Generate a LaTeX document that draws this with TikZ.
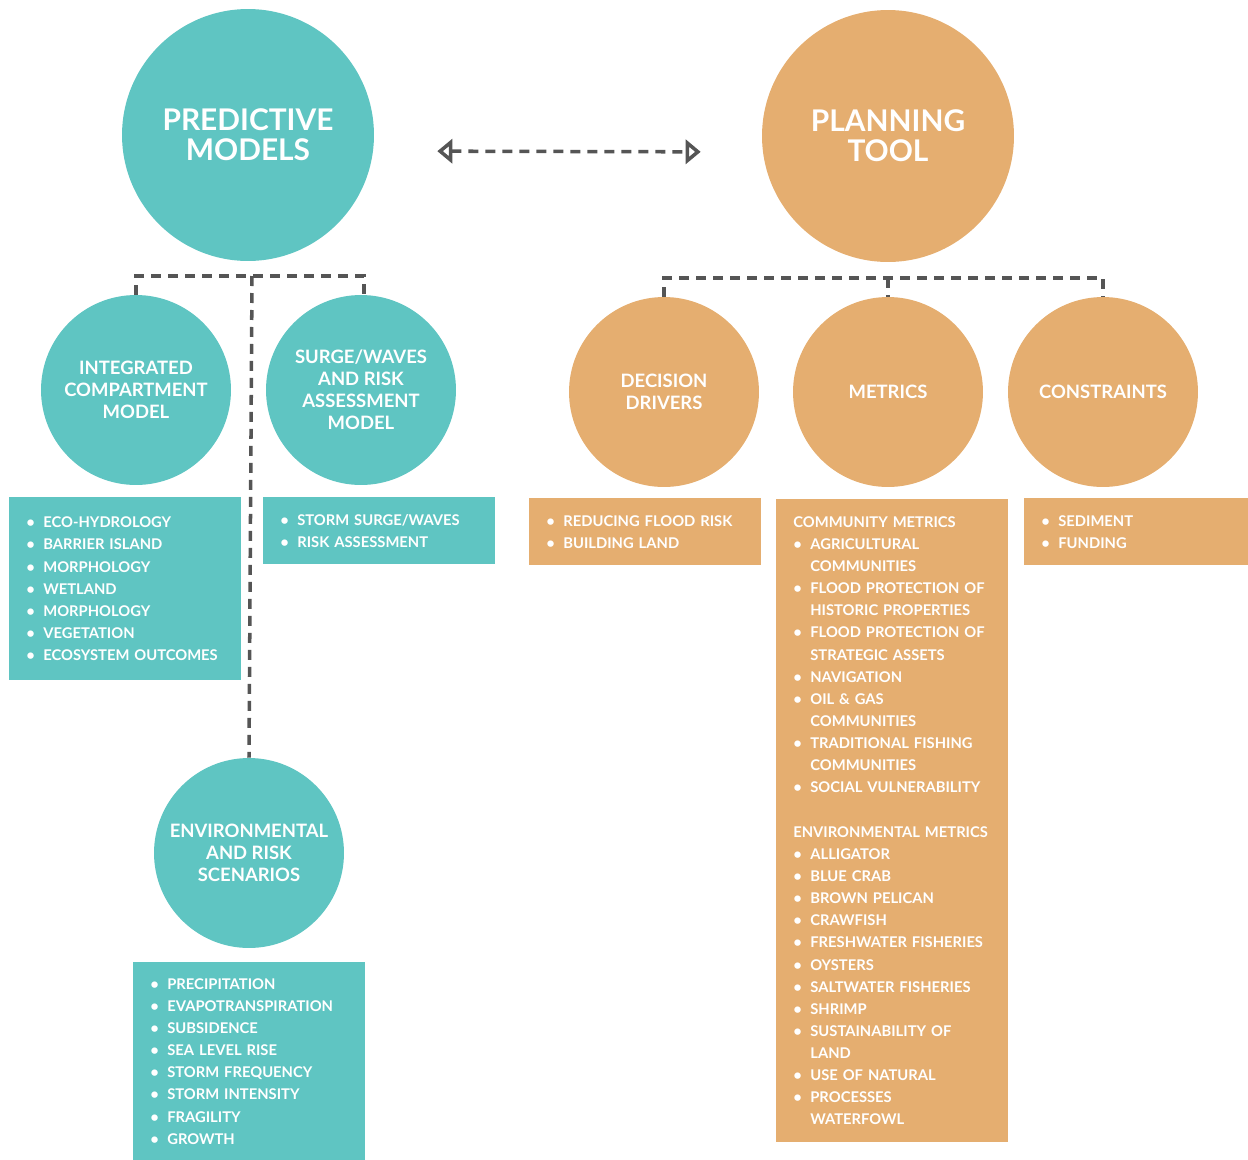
\documentclass[tikz,border=0pt]{standalone}
\usepackage{fontspec}
\setmainfont{Lato}
\usetikzlibrary{arrows.meta}
\definecolor{predteal}{HTML}{5FC5C2}
\definecolor{planorange}{HTML}{E5AE70}
\definecolor{linegray}{HTML}{555555}
\newcommand{\bl}{\makebox[0.34cm][l]{\textbullet}}
\newcommand{\ind}{\hspace*{0.34cm}}
\tikzset{
  bigcirc/.style={circle,inner sep=0pt,minimum size=5.04cm,align=center,text=white,
    font=\fontsize{17}{17}\selectfont\bfseries},
  subcirc/.style={circle,inner sep=0pt,minimum size=3.8cm,align=center,text=white,
    font=\fontsize{10.5}{12.5}\selectfont\bfseries},
  listbox/.style={anchor=north west,inner xsep=0.34cm,inner ysep=0pt,text width=3.96cm,
    align=left,text=white,font=\fontsize{8.4}{12.6}\selectfont\bfseries},
  conn/.style={linegray,line width=2pt,dash pattern=on 0.2cm off 0.14cm},
  opentip/.tip={Triangle[open,length=0.3cm,width=0.48cm,line width=2pt]}
}
\begin{document}
\begin{tikzpicture}[x=0.02cm,y=-0.02cm]
\useasboundingbox (0,0) rectangle (1248,1160);
\node[bigcirc,fill=predteal] (pred) at (248,135) {PREDICTIVE\\MODELS};
\node[bigcirc,fill=planorange] (plan) at (888,136) {PLANNING\\TOOL};
\node[subcirc,fill=predteal] (integ) at (136,390) {INTEGRATED\\COMPARTMENT\\MODEL};
\node[subcirc,fill=predteal] (surge) at (361,390) {SURGE/WAVES\\AND RISK\\ASSESSMENT\\MODEL};
\node[subcirc,fill=predteal] (env) at (249,853) {ENVIRONMENTAL\\AND RISK\\SCENARIOS};
\node[subcirc,fill=planorange] (drivers) at (664,392) {DECISION\\DRIVERS};
\node[subcirc,fill=planorange] (metrics) at (888,392) {METRICS};
\node[subcirc,fill=planorange] (constr) at (1103,392) {CONSTRAINTS};

\node[listbox,fill=predteal,minimum height=3.66cm] (integlist) at (9,497)
  {\bl ECO-HYDROLOGY\\\bl BARRIER ISLAND\\\bl MORPHOLOGY\\\bl WETLAND\\\bl MORPHOLOGY\\\bl VEGETATION\\\bl ECOSYSTEM OUTCOMES};
\node[listbox,fill=predteal,minimum height=1.34cm] (surgelist) at (263,497)
  {\bl STORM SURGE/WAVES\\\bl RISK ASSESSMENT};
\node[listbox,fill=predteal,minimum height=3.96cm] (envlist) at (133,962)
  {\bl PRECIPITATION\\\bl EVAPOTRANSPIRATION\\\bl SUBSIDENCE\\\bl SEA LEVEL RISE\\\bl STORM FREQUENCY\\\bl STORM INTENSITY\\\bl FRAGILITY\\\bl GROWTH};
\node[listbox,fill=planorange,minimum height=1.34cm] (driverlist) at (529,498)
  {\bl REDUCING FLOOD RISK\\\bl BUILDING LAND};
\node[listbox,fill=planorange,minimum height=12.86cm] (metriclist) at (776,499)
  {COMMUNITY METRICS\\\bl AGRICULTURAL\\\ind COMMUNITIES\\\bl FLOOD PROTECTION OF\\\ind HISTORIC PROPERTIES\\\bl FLOOD PROTECTION OF\\\ind STRATEGIC ASSETS\\\bl NAVIGATION\\\bl OIL \& GAS\\\ind COMMUNITIES\\\bl TRADITIONAL FISHING\\\ind COMMUNITIES\\\bl SOCIAL VULNERABILITY\\[12.6pt]
   ENVIRONMENTAL METRICS\\\bl ALLIGATOR\\\bl BLUE CRAB\\\bl BROWN PELICAN\\\bl CRAWFISH\\\bl FRESHWATER FISHERIES\\\bl OYSTERS\\\bl SALTWATER FISHERIES\\\bl SHRIMP\\\bl SUSTAINABILITY OF\\\ind LAND\\\bl USE OF NATURAL\\\bl PROCESSES\\\ind WATERFOWL};
\node[listbox,fill=planorange,minimum height=1.34cm,text width=3.8cm] (constrlist) at (1024,498)
  {\bl SEDIMENT\\\bl FUNDING};

\coordinate (lbar) at (252,276);
\coordinate (rbar) at (888,278);
\draw[conn] (integ.north) |- (lbar) -| ([xshift=0.06cm]surge.north);
\draw[conn] (lbar) -- (env.north);
\draw[conn] (drivers.north) |- (rbar) -| (constr.north);
\draw[conn] (rbar) -- (metrics.north);
\draw[conn,opentip-opentip,shorten <=1.26cm,shorten >=1.22cm]
  ([yshift=-0.32cm]pred.east) -- ([yshift=-0.32cm]plan.west);
\end{tikzpicture}
\end{document}
